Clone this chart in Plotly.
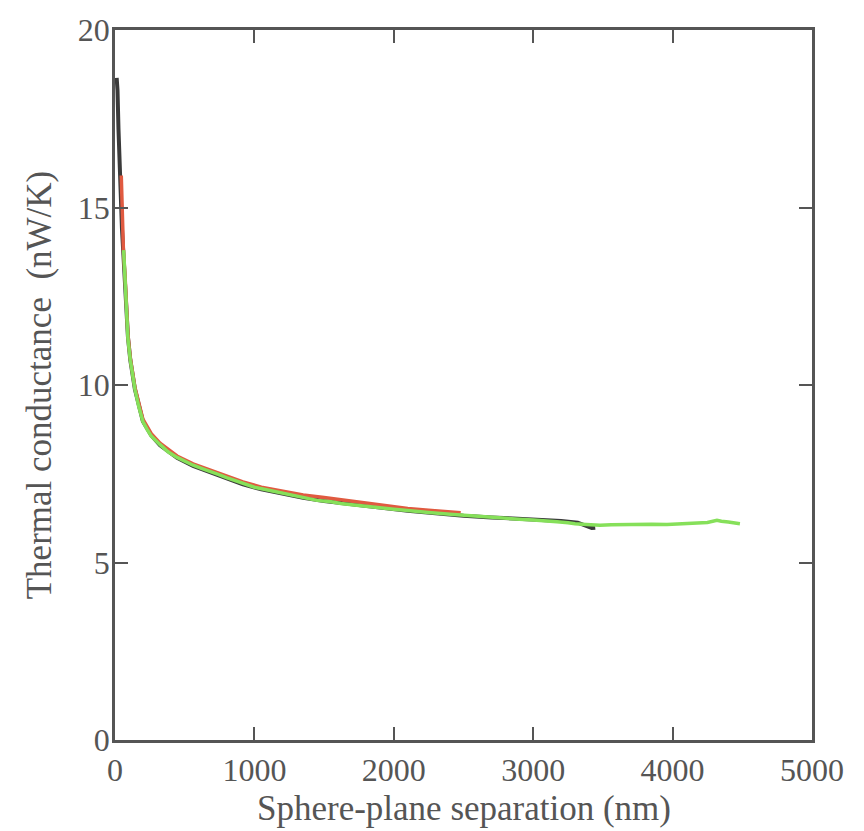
import plotly.graph_objects as go

# Thermal conductance vs sphere-plane separation, three measurement runs
black_x = [12, 18, 25, 32, 40, 50, 60, 75, 93, 110, 143, 200, 260, 323, 445, 560,
           682, 800, 918, 1050, 1200, 1350, 1500, 1700, 1900, 2100, 2300, 2500,
           2700, 2900, 3050, 3200, 3320, 3380, 3420, 3445]
black_y = [18.65, 18.3, 17.2, 16.2, 15.3, 14.4, 13.7, 12.7, 11.35, 10.7, 9.88, 8.98,
           8.58, 8.3, 7.95, 7.72, 7.55, 7.37, 7.2, 7.06, 6.93, 6.82, 6.73, 6.63,
           6.55, 6.46, 6.38, 6.32, 6.27, 6.23, 6.22, 6.17, 6.12, 6.02, 5.97, 5.98]

red_x = [45, 52, 60, 75, 93, 110, 143, 200, 260, 323, 445, 560, 682, 800, 918, 1050,
         1200, 1350, 1500, 1650, 1800, 1950, 2100, 2250, 2400, 2480]
red_y = [15.9, 14.9, 13.85, 12.85, 11.4, 10.75, 9.93, 9.04, 8.63, 8.36, 8.0, 7.78,
         7.6, 7.43, 7.27, 7.12, 7.0, 6.9, 6.83, 6.75, 6.68, 6.6, 6.52, 6.47, 6.42, 6.4]

green_x = [62, 68, 75, 84, 93, 110, 125, 143, 170, 200, 230, 260, 323, 380, 445, 500,
           560, 620, 682, 740, 800, 860, 918, 1000, 1112, 1200, 1300, 1380, 1449,
           1550, 1620, 1700, 1800, 1923, 2000, 2080, 2150, 2250, 2403, 2500, 2600,
           2700, 2812, 2900, 3000, 3100, 3170, 3250, 3300, 3380, 3479, 3560, 3650,
           3766, 3850, 3960, 4050, 4150, 4250, 4318, 4350, 4400, 4483]
green_y = [13.8, 13.3, 12.75, 12.0, 11.3, 10.7, 10.25, 9.88, 9.4, 8.97, 8.75, 8.56,
           8.32, 8.12, 7.96, 7.85, 7.74, 7.65, 7.57, 7.48, 7.39, 7.31, 7.22, 7.12,
           7.03, 6.96, 6.88, 6.82, 6.75, 6.71, 6.66, 6.63, 6.58, 6.54, 6.5, 6.47,
           6.44, 6.41, 6.36, 6.33, 6.3, 6.27, 6.24, 6.22, 6.2, 6.18, 6.15, 6.12,
           6.09, 6.07, 6.05, 6.06, 6.07, 6.08, 6.08, 6.07, 6.09, 6.11, 6.13, 6.19,
           6.16, 6.14, 6.09]

x_ticks = [0, 1000, 2000, 3000, 4000, 5000]
y_ticks = [0, 5, 10, 15, 20]

x_title = "Sphere-plane separation (nm)"
y_title = "Thermal conductance  (nW/K)"

fig = go.Figure()
fig.add_trace(go.Scatter(x=black_x, y=black_y, mode="lines",
                         line=dict(color="#3a3a3a", width=4)))
fig.add_trace(go.Scatter(x=red_x, y=red_y, mode="lines",
                         line=dict(color="#e05a40", width=3.5)))
fig.add_trace(go.Scatter(x=green_x, y=green_y, mode="lines",
                         line=dict(color="#86e05a", width=3.5)))

axis_common = dict(
    showline=True, linecolor="#555555", linewidth=2.5, mirror="ticks",
    ticks="inside", ticklen=13, tickwidth=2, tickcolor="#555555",
    showgrid=False, zeroline=False,
    tickfont=dict(family="Liberation Serif", size=32, color="#555555"),
)

fig.update_layout(
    width=864, height=831,
    margin=dict(l=115, r=52, t=20, b=91),
    paper_bgcolor="white", plot_bgcolor="white",
    showlegend=False,
    xaxis=dict(range=[0, 5000], tickvals=x_ticks, ticklabelstandoff=0,
               **axis_common),
    yaxis=dict(range=[0, 20], tickvals=y_ticks, ticklabelstandoff=-4,
               title=dict(text=y_title, standoff=16,
                          font=dict(family="Liberation Serif", size=35, color="#555555")),
               **axis_common),
    annotations=[dict(text=x_title, xref="paper", yref="paper",
                      x=0.5, y=-0.096, xanchor="center", yanchor="middle",
                      showarrow=False,
                      font=dict(family="Liberation Serif", size=35, color="#555555"))],
)

fig.write_html("out.html")
